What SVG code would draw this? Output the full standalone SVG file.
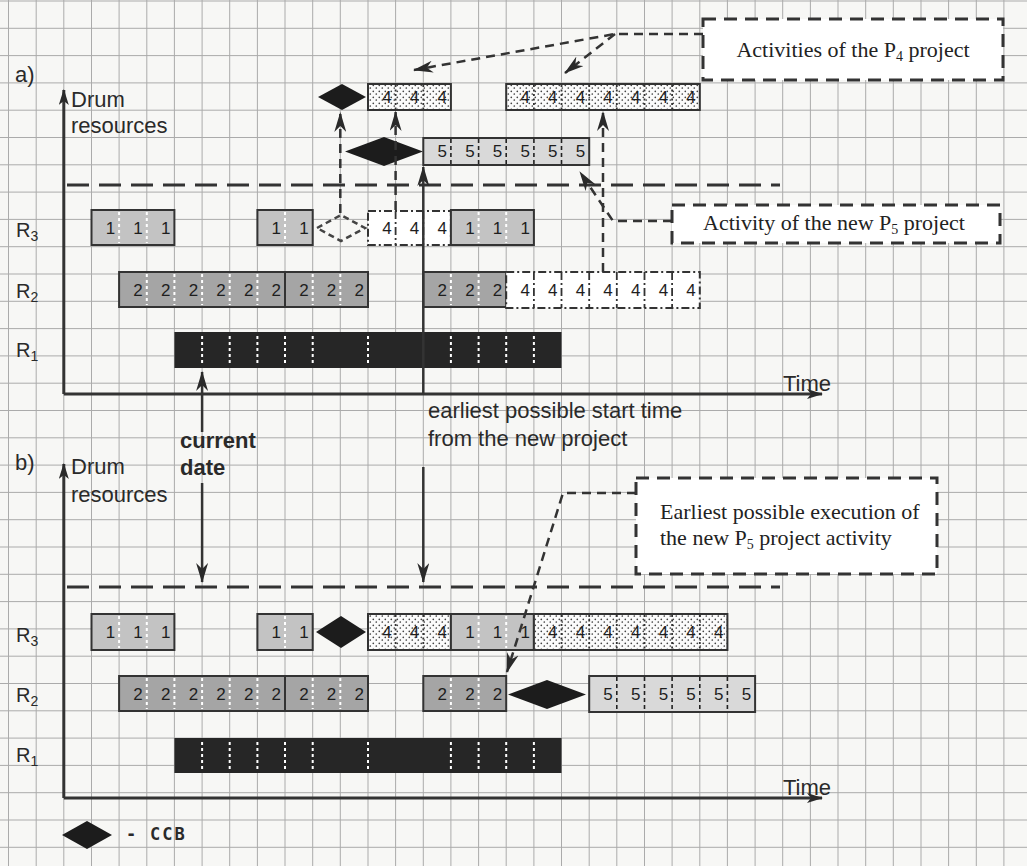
<svg xmlns="http://www.w3.org/2000/svg" width="1027" height="866" viewBox="0 0 1027 866">
<defs>
<style>
.lbl{font-family:"Liberation Sans",Arial,sans-serif;font-size:22px;fill:#2a2a2a}
.bold{font-weight:bold}
.rl{font-family:"Liberation Sans",Arial,sans-serif;font-size:20px;fill:#2a2a2a}
.num{font-family:"Liberation Sans",Arial,sans-serif;font-size:17px;fill:#1e1e1e;text-anchor:end}
.note{font-family:"Liberation Serif","Times New Roman",serif;font-size:22px;fill:#222}
.mono{font-family:"DejaVu Sans Mono","Liberation Mono",monospace;font-size:17px;font-weight:bold;fill:#2a2a2a;letter-spacing:2px}
.box{stroke:#333;stroke-width:2}
.p1{fill:#c3c3c3}
.p2{fill:#a5a5a5}
.p5{fill:#d9d9d9}
.dots{fill:url(#stipple)}
.r1{fill:#262626}
.dd{fill:#fff;stroke:#333;stroke-width:2;stroke-dasharray:8 3 2 3}
.divw{stroke:#fff;stroke-width:2;stroke-dasharray:3 3;fill:none}
.divd{stroke:#222;stroke-width:1.6;stroke-dasharray:4 3;fill:none}
.divp{stroke:#333;stroke-width:1.8;stroke-dasharray:2 2.5;fill:none}
.divdd{stroke:#333;stroke-width:1.8;stroke-dasharray:8 3 2 3;fill:none}
.grid{stroke:#ababab;stroke-width:1;fill:none}
.axis{stroke:#333;stroke-width:3;fill:none}
.cap{stroke:#333;stroke-width:3;stroke-dasharray:22 10;fill:none}
.lead{stroke:#333;stroke-width:2.5;stroke-dasharray:9 6;fill:none}
.solid{stroke:#333;stroke-width:2.5;fill:none}
.callout{fill:#fff;stroke:#333;stroke-width:3;stroke-dasharray:13 8}
.ccb{fill:#1c1c1c}
.ghost{fill:none;stroke:#444;stroke-width:2.5;stroke-dasharray:6 4}
</style>
<pattern id="stipple" width="6" height="6" patternUnits="userSpaceOnUse">
<rect width="6" height="6" fill="#fbfbfb"/>
<circle cx="1.3" cy="1.3" r="0.85" fill="#444"/>
<circle cx="4.3" cy="4" r="0.85" fill="#444"/>
</pattern>
<marker id="arrow" viewBox="0 0 20 12" refX="19" refY="6" markerWidth="20" markerHeight="12" markerUnits="userSpaceOnUse" orient="auto">
<path d="M0 0L20 6L0 12L6 6z" fill="#2a2a2a"/>
</marker>
<marker id="axisArrow" viewBox="0 0 16 10" refX="15" refY="5" markerWidth="16" markerHeight="10" markerUnits="userSpaceOnUse" orient="auto">
<path d="M0 0L16 5L0 10L4 5z" fill="#2a2a2a"/>
</marker>
</defs>

<!-- paper -->
<rect width="1027" height="866" fill="#f7f7f5"/>

<!-- graph-paper grid -->
<path class="grid" d="M8.5 0V866M36.2 0V866M63.8 0V866M91.5 0V866M119.1 0V866M146.8 0V866M174.4 0V866M202.1 0V866M229.7 0V866M257.4 0V866M285 0V866M312.7 0V866M340.3 0V866M368 0V866M395.6 0V866M423.3 0V866M450.9 0V866M478.6 0V866M506.2 0V866M533.9 0V866M561.5 0V866M589.2 0V866M616.8 0V866M644.5 0V866M672.1 0V866M699.8 0V866M727.4 0V866M755.1 0V866M782.7 0V866M810.4 0V866M838 0V866M865.7 0V866M893.3 0V866M921 0V866M948.6 0V866M976.3 0V866M1003.9 0V866"/>
<path class="grid" d="M0 1H1027M0 28.3H1027M0 55.6H1027M0 82.9H1027M0 110.2H1027M0 137.5H1027M0 164.8H1027M0 192.1H1027M0 219.4H1027M0 246.7H1027M0 274H1027M0 301.3H1027M0 328.6H1027M0 355.9H1027M0 383.2H1027M0 410.5H1027M0 437.8H1027M0 465.1H1027M0 492.4H1027M0 519.7H1027M0 547H1027M0 574.3H1027M0 601.6H1027M0 628.9H1027M0 656.2H1027M0 683.5H1027M0 710.8H1027M0 738.1H1027M0 765.4H1027M0 792.7H1027M0 820H1027M0 847.3H1027"/>

<!-- ===== panel a) ===== -->
<g id="a-frame">
<text class="lbl" x="15" y="82" font-size="24">a)</text>
<text class="lbl" x="71" y="107">Drum</text>
<text class="lbl" x="71" y="133">resources</text>
<path class="axis" d="M63.8 394V90" marker-end="url(#axisArrow)"/>
<path class="axis" d="M63.8 394H822" marker-end="url(#axisArrow)"/>
<text class="lbl" x="783" y="391">Time</text>
<path class="cap" d="M67 185H780"/>
<text class="rl" x="16" y="237">R<tspan font-size="14" dy="4">3</tspan></text>
<text class="rl" x="16" y="298">R<tspan font-size="14" dy="4">2</tspan></text>
<text class="rl" x="16" y="357">R<tspan font-size="14" dy="4">1</tspan></text>
</g>

<!-- R3 row -->
<g id="a-r3-p1a">
<rect class="box p1" x="91.5" y="210" width="82.9" height="35"/>
<path class="divw" d="M119.1 212V243M146.8 212V243"/>
<text class="num" x="115.1" y="234">1</text><text class="num" x="142.8" y="234">1</text><text class="num" x="170.4" y="234">1</text>
</g>
<g id="a-r3-p1b">
<rect class="box p1" x="257.4" y="210" width="55.3" height="35"/>
<path class="divw" d="M285 212V243"/>
<text class="num" x="281" y="234">1</text><text class="num" x="308.7" y="234">1</text>
</g>
<g id="a-r3-ccb-old">
<polygon class="ghost" points="317,228 341,215 365,228 341,241"/>
</g>
<g id="a-r3-p4-old">
<rect class="dd" x="368" y="211" width="82.9" height="34"/>
<path class="divdd" d="M395.6 211V245M423.3 211V245"/>
<text class="num" x="391.6" y="234">4</text><text class="num" x="419.3" y="234">4</text><text class="num" x="446.9" y="234">4</text>
</g>
<g id="a-r3-p1c">
<rect class="box p1" x="450.9" y="210" width="83" height="35"/>
<path class="divw" d="M478.6 212V243M506.2 212V243"/>
<text class="num" x="474.6" y="234">1</text><text class="num" x="502.2" y="234">1</text><text class="num" x="529.9" y="234">1</text>
</g>

<!-- R2 row -->
<g id="a-r2-p2a">
<rect class="box p2" x="119.1" y="272" width="165.9" height="35"/>
<path class="divw" d="M146.8 274V305M174.4 274V305M202.1 274V305M229.7 274V305M257.4 274V305"/>
<text class="num" x="142.8" y="296">2</text><text class="num" x="170.4" y="296">2</text><text class="num" x="198.1" y="296">2</text><text class="num" x="225.7" y="296">2</text><text class="num" x="253.4" y="296">2</text><text class="num" x="281" y="296">2</text>
</g>
<g id="a-r2-p2b">
<rect class="box p2" x="285" y="272" width="83" height="35"/>
<path class="divw" d="M312.7 274V305M340.3 274V305"/>
<text class="num" x="308.7" y="296">2</text><text class="num" x="336.3" y="296">2</text><text class="num" x="364" y="296">2</text>
</g>
<g id="a-r2-p2c">
<rect class="box p2" x="423.3" y="272" width="82.9" height="35"/>
<path class="divw" d="M450.9 274V305M478.6 274V305"/>
<text class="num" x="446.9" y="296">2</text><text class="num" x="474.6" y="296">2</text><text class="num" x="502.2" y="296">2</text>
</g>
<g id="a-r2-p4-old">
<rect class="dd" x="506.2" y="272" width="193.6" height="36"/>
<path class="divdd" d="M533.9 272V308M561.5 272V308M589.2 272V308M616.8 272V308M644.5 272V308M672.1 272V308"/>
<text class="num" x="529.9" y="296">4</text><text class="num" x="557.5" y="296">4</text><text class="num" x="585.2" y="296">4</text><text class="num" x="612.8" y="296">4</text><text class="num" x="640.5" y="296">4</text><text class="num" x="668.1" y="296">4</text><text class="num" x="695.8" y="296">4</text>
</g>

<!-- R1 row -->
<g id="a-r1">
<rect class="r1" x="174.4" y="332" width="387.1" height="36"/>
<path class="divw" d="M202.1 336V364M229.7 336V364M257.4 336V364M285 336V364M312.7 336V364M368 336V364M450.9 336V364M478.6 336V364M506.2 336V364M533.9 336V364"/>
</g>

<!-- lifted P4 activities and CCB -->
<g id="a-ccb-top">
<polygon class="ccb" points="318,97 342,84 366,97 342,110"/>
</g>
<g id="a-p4-top-a">
<rect class="box dots" x="368" y="84" width="82.9" height="26"/>
<path class="divp" d="M395.6 85V109M423.3 85V109"/>
<text class="num" x="391.6" y="103">4</text><text class="num" x="419.3" y="103">4</text><text class="num" x="446.9" y="103">4</text>
</g>
<g id="a-p4-top-b">
<rect class="box dots" x="506.2" y="84" width="193.6" height="26"/>
<path class="divp" d="M533.9 85V109M561.5 85V109M589.2 85V109M616.8 85V109M644.5 85V109M672.1 85V109"/>
<text class="num" x="529.9" y="103">4</text><text class="num" x="557.5" y="103">4</text><text class="num" x="585.2" y="103">4</text><text class="num" x="612.8" y="103">4</text><text class="num" x="640.5" y="103">4</text><text class="num" x="668.1" y="103">4</text><text class="num" x="695.8" y="103">4</text>
</g>

<!-- new P5 activity with its CCB -->
<g id="a-ccb-p5">
<polygon class="ccb" points="345,151.5 384,137 423,151.5 384,166"/>
</g>
<g id="a-p5">
<rect class="box p5" x="423.3" y="138" width="165.9" height="27"/>
<path class="divd" d="M450.9 139V164M478.6 139V164M506.2 139V164M533.9 139V164M561.5 139V164"/>
<text class="num" x="446.9" y="157">5</text><text class="num" x="474.6" y="157">5</text><text class="num" x="502.2" y="157">5</text><text class="num" x="529.9" y="157">5</text><text class="num" x="557.5" y="157">5</text><text class="num" x="585.2" y="157">5</text>
</g>

<!-- notes of panel a) -->
<g id="a-note-p4">
<rect class="callout" x="703" y="19" width="300" height="61"/>
<text class="note" x="853" y="57" text-anchor="middle">Activities of the P<tspan font-size="14" dy="4">4</tspan><tspan dy="-4"> project</tspan></text>
</g>
<g id="a-note-p5">
<rect class="callout" x="672" y="205" width="328" height="38"/>
<text class="note" x="834" y="230" text-anchor="middle">Activity of the new P<tspan font-size="14" dy="4">5</tspan><tspan dy="-4"> project</tspan></text>
</g>

<!-- current date / earliest start captions -->
<g id="captions">
<text class="lbl" x="428" y="418">earliest possible start time</text>
<text class="lbl" x="428" y="446">from the new project</text>
<text class="lbl bold" x="180" y="448">current</text>
<text class="lbl bold" x="180" y="475">date</text>
</g>

<!-- ===== panel b) ===== -->
<g id="b-frame">
<text class="lbl" x="15" y="470" font-size="24">b)</text>
<text class="lbl" x="71" y="474">Drum</text>
<text class="lbl" x="71" y="502">resources</text>
<path class="axis" d="M63.8 798V464" marker-end="url(#axisArrow)"/>
<path class="axis" d="M63.8 798H822" marker-end="url(#axisArrow)"/>
<text class="lbl" x="783" y="795">Time</text>
<path class="cap" d="M67 587H780"/>
<text class="rl" x="16" y="642">R<tspan font-size="14" dy="4">3</tspan></text>
<text class="rl" x="16" y="702">R<tspan font-size="14" dy="4">2</tspan></text>
<text class="rl" x="16" y="762">R<tspan font-size="14" dy="4">1</tspan></text>
</g>

<!-- R3 row -->
<g id="b-r3-p1a">
<rect class="box p1" x="91.5" y="614" width="82.9" height="36"/>
<path class="divw" d="M119.1 616V648M146.8 616V648"/>
<text class="num" x="115.1" y="638">1</text><text class="num" x="142.8" y="638">1</text><text class="num" x="170.4" y="638">1</text>
</g>
<g id="b-r3-p1b">
<rect class="box p1" x="257.4" y="614" width="55.3" height="36"/>
<path class="divw" d="M285 616V648"/>
<text class="num" x="281" y="638">1</text><text class="num" x="308.7" y="638">1</text>
</g>
<g id="b-r3-ccb">
<polygon class="ccb" points="316,632 341,616 366,632 341,648"/>
</g>
<g id="b-r3-p4a">
<rect class="box dots" x="368" y="614" width="82.9" height="36"/>
<path class="divp" d="M395.6 615V649M423.3 615V649"/>
<text class="num" x="391.6" y="638">4</text><text class="num" x="419.3" y="638">4</text><text class="num" x="446.9" y="638">4</text>
</g>
<g id="b-r3-p1c">
<rect class="box p1" x="450.9" y="614" width="83" height="36"/>
<path class="divw" d="M478.6 616V648M506.2 616V648"/>
<text class="num" x="474.6" y="638">1</text><text class="num" x="502.2" y="638">1</text><text class="num" x="529.9" y="638">1</text>
</g>
<g id="b-r3-p4b">
<rect class="box dots" x="533.9" y="614" width="193.5" height="36"/>
<path class="divp" d="M561.5 615V649M589.2 615V649M616.8 615V649M644.5 615V649M672.1 615V649M699.8 615V649"/>
<text class="num" x="557.5" y="638">4</text><text class="num" x="585.2" y="638">4</text><text class="num" x="612.8" y="638">4</text><text class="num" x="640.5" y="638">4</text><text class="num" x="668.1" y="638">4</text><text class="num" x="695.8" y="638">4</text><text class="num" x="723.4" y="638">4</text>
</g>

<!-- R2 row -->
<g id="b-r2-p2a">
<rect class="box p2" x="119.1" y="676" width="165.9" height="35"/>
<path class="divw" d="M146.8 678V709M174.4 678V709M202.1 678V709M229.7 678V709M257.4 678V709"/>
<text class="num" x="142.8" y="700">2</text><text class="num" x="170.4" y="700">2</text><text class="num" x="198.1" y="700">2</text><text class="num" x="225.7" y="700">2</text><text class="num" x="253.4" y="700">2</text><text class="num" x="281" y="700">2</text>
</g>
<g id="b-r2-p2b">
<rect class="box p2" x="285" y="676" width="83" height="35"/>
<path class="divw" d="M312.7 678V709M340.3 678V709"/>
<text class="num" x="308.7" y="700">2</text><text class="num" x="336.3" y="700">2</text><text class="num" x="364" y="700">2</text>
</g>
<g id="b-r2-p2c">
<rect class="box p2" x="423.3" y="676" width="82.9" height="35"/>
<path class="divw" d="M450.9 678V709M478.6 678V709"/>
<text class="num" x="446.9" y="700">2</text><text class="num" x="474.6" y="700">2</text><text class="num" x="502.2" y="700">2</text>
</g>
<g id="b-r2-ccb">
<polygon class="ccb" points="508,694.5 547,680 586,694.5 547,709"/>
</g>
<g id="b-r2-p5">
<rect class="box p5" x="589.2" y="676" width="165.9" height="36"/>
<path class="divd" d="M616.8 677V711M644.5 677V711M672.1 677V711M699.8 677V711M727.4 677V711"/>
<text class="num" x="612.8" y="700">5</text><text class="num" x="640.5" y="700">5</text><text class="num" x="668.1" y="700">5</text><text class="num" x="695.8" y="700">5</text><text class="num" x="723.4" y="700">5</text><text class="num" x="751.1" y="700">5</text>
</g>

<!-- R1 row -->
<g id="b-r1">
<rect class="r1" x="174.4" y="738" width="387.1" height="35"/>
<path class="divw" d="M202.1 742V769M229.7 742V769M257.4 742V769M285 742V769M312.7 742V769M368 742V769M450.9 742V769M478.6 742V769M506.2 742V769M533.9 742V769"/>
</g>

<!-- note of panel b) -->
<g id="b-note">
<rect class="callout" x="636" y="478" width="301" height="96"/>
<text class="note" x="660" y="519">Earliest possible execution of</text>
<text class="note" x="660" y="545">the new P<tspan font-size="14" dy="4">5</tspan><tspan dy="-4"> project activity</tspan></text>
</g>

<!-- legend -->
<g id="legend">
<polygon class="ccb" points="62,835 87,821 112,835 87,849"/>
<text class="mono" x="126" y="840">-</text>
<text class="mono" x="150" y="840">CCB</text>
</g>

<!-- ===== connectors ===== -->
<g id="connectors">
<!-- panel a) -->
<path class="lead" d="M340.3 213V113" marker-end="url(#arrow)"/>
<path class="lead" d="M395.6 210V112" marker-end="url(#arrow)"/>
<path class="lead" d="M603 272V112" marker-end="url(#arrow)"/>
<path class="solid" d="M423.3 394V167" marker-end="url(#arrow)"/>
<path class="solid" d="M202.1 432V372" marker-end="url(#arrow)"/>
<path class="lead" d="M703 34H615L414 70" marker-end="url(#arrow)"/>
<path class="lead" d="M615 34L565 73" marker-end="url(#arrow)"/>
<path class="lead" d="M672 221H613L580 172" marker-end="url(#arrow)"/>
<!-- panel b) -->
<path class="solid" d="M202.1 483V582" marker-end="url(#arrow)"/>
<path class="solid" d="M423.3 467V582" marker-end="url(#arrow)"/>
<path class="lead" d="M636 493H563L507 672" marker-end="url(#arrow)"/>
</g>
</svg>
